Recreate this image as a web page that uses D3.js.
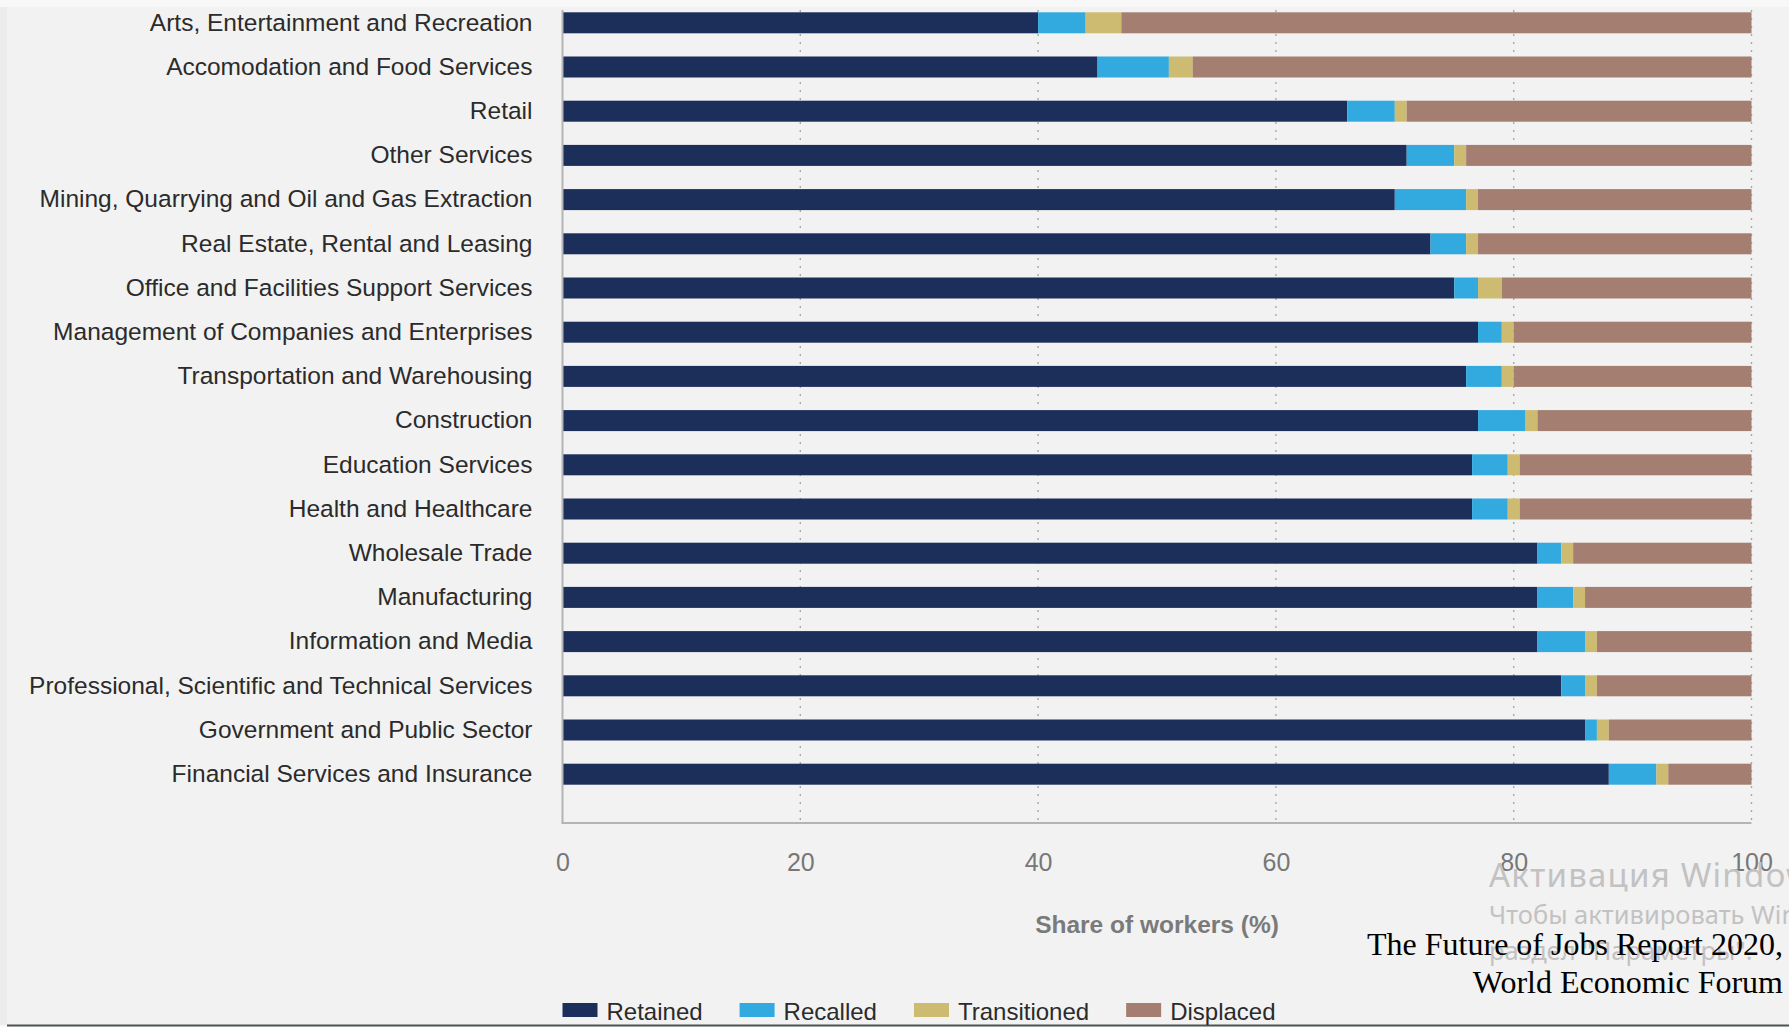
<!DOCTYPE html>
<html>
<head>
<meta charset="utf-8">
<script src="https://cdn.jsdelivr.net/npm/d3@7"></script>
<style>
  html, body { margin: 0; padding: 0; background: #ffffff; }
  svg { display: block; }
</style>
</head>
<body>
<svg id="chart" width="1789" height="1027"></svg>
<script>
// ---- Data ----
const categories = [
  "Arts, Entertainment and Recreation",
  "Accomodation and Food Services",
  "Retail",
  "Other Services",
  "Mining, Quarrying and Oil and Gas Extraction",
  "Real Estate, Rental and Leasing",
  "Office and Facilities Support Services",
  "Management of Companies and Enterprises",
  "Transportation and Warehousing",
  "Construction",
  "Education Services",
  "Health and Healthcare",
  "Wholesale Trade",
  "Manufacturing",
  "Information and Media",
  "Professional, Scientific and Technical Services",
  "Government and Public Sector",
  "Financial Services and Insurance"
];
const retained     = [40, 45, 66, 71, 70, 73, 75, 77, 76, 77, 76.5, 76.5, 82, 82, 82, 84, 86, 88];
const recalled     = [ 4,  6,  4,  4,  6,  3,  2,  2,  3,  4,  3,    3,    2,  3,  4,  2,  1,  4];
const transitioned = [ 3,  2,  1,  1,  1,  1,  2,  1,  1,  1,  1,    1,    1,  1,  1,  1,  1,  1];
const displaced    = [53, 47, 29, 24, 23, 23, 21, 20, 20, 18, 19.5, 19.5, 15, 14, 13, 13, 12,  7];
const seriesNames  = ["Retained", "Recalled", "Transitioned", "Displaced"];
const seriesColors = ["#1c2e5a", "#33aadf", "#cdbb72", "#a47e70"];
const xTicks       = [0, 20, 40, 60, 80, 100];
const gridTicks    = [20, 40, 60, 80, 100];
const axisTitle    = "Share of workers (%)";
const sourceLines  = ["The Future of Jobs Report 2020,", "World Economic Forum"];
const watermark    = ["Активация Windows", "Чтобы активировать Windows, перейдите в", "раздел \"Параметры\"."];

// ---- Build table ----
const rows = categories.map((c, i) => ({
  category: c,
  Retained: retained[i],
  Recalled: recalled[i],
  Transitioned: transitioned[i],
  Displaced: displaced[i]
}));

const svg = d3.select("#chart");
const W = 1789, H = 1027;

// background
svg.append("rect").attr("x", 0).attr("y", 0).attr("width", W).attr("height", H).attr("fill", "#f8f8f8");
svg.append("rect").attr("x", 0).attr("y", 7).attr("width", 7).attr("height", 1018).attr("fill", "#ececec");
svg.append("rect").attr("x", 7).attr("y", 7).attr("width", W - 7).attr("height", 1018).attr("fill", "#f2f2f2");
svg.append("line").attr("x1", 7).attr("x2", W).attr("y1", 1025.5).attr("y2", 1025.5)
  .attr("stroke", "#4d5454").attr("stroke-width", 2);

const plotTop = 10, plotBottom = 823;
const x = d3.scaleLinear().domain([0, 100]).range([562.5, 1751.5]);
const y = d3.scaleBand().domain(categories).range([0.7, 796.3]).paddingInner(0.525).paddingOuter(0.2625);
const color = d3.scaleOrdinal().domain(seriesNames).range(seriesColors);

// gridlines
svg.append("g").selectAll("line").data(gridTicks).join("line")
  .attr("x1", d => x(d)).attr("x2", d => x(d))
  .attr("y1", plotTop).attr("y2", plotBottom)
  .attr("stroke", "#a8a8a8").attr("stroke-width", 1.4).attr("stroke-dasharray", "2,6");

// stacked bars
const stacked = d3.stack().keys(seriesNames)(rows);
svg.append("g").selectAll("g").data(stacked).join("g")
  .attr("fill", d => color(d.key))
  .selectAll("rect").data(d => d).join("rect")
  .attr("x", d => x(d[0]))
  .attr("width", d => x(d[1]) - x(d[0]))
  .attr("y", d => y(d.data.category))
  .attr("height", y.bandwidth());

// axes lines
svg.append("line").attr("x1", x(0)).attr("x2", x(0)).attr("y1", plotTop).attr("y2", plotBottom)
  .attr("stroke", "#b4b4b4").attr("stroke-width", 2);
svg.append("line").attr("x1", x(0) - 1).attr("x2", x(100)).attr("y1", plotBottom).attr("y2", plotBottom)
  .attr("stroke", "#b4b4b4").attr("stroke-width", 2);

// y axis labels
const yAxis = svg.append("g").attr("transform", `translate(${x(0)},0)`)
  .call(d3.axisLeft(y).tickSize(0).tickPadding(30));
yAxis.select(".domain").remove();
yAxis.selectAll("text")
  .attr("font-family", "'Liberation Sans', Arial, sans-serif")
  .attr("font-size", 24.5)
  .attr("fill", "#2b2b2b");

// x axis labels
const xAxis = svg.append("g").attr("transform", `translate(0,${plotBottom})`)
  .call(d3.axisBottom(x).tickValues(xTicks).tickSize(0).tickPadding(30).tickFormat(d3.format("d")));
xAxis.select(".domain").remove();
xAxis.selectAll("text")
  .attr("font-family", "'Liberation Sans', Arial, sans-serif")
  .attr("font-size", 25)
  .attr("fill", "#777777");

// axis title
svg.append("text")
  .attr("x", (x(0) + x(100)) / 2).attr("y", 933)
  .attr("text-anchor", "middle")
  .attr("font-family", "'Liberation Sans', Arial, sans-serif")
  .attr("font-weight", "bold")
  .attr("font-size", 24.5)
  .attr("fill", "#7a7a7a")
  .text(axisTitle);

// watermark (drawn under source text)
const wm = svg.append("g").attr("font-family", "'Noto Sans', 'Open Sans', sans-serif").attr("fill", "#c2c2c2");
wm.append("text").attr("x", 1489).attr("y", 887).attr("font-size", 33).attr("letter-spacing", 1.2).text(watermark[0]);
wm.append("text").attr("x", 1489).attr("y", 924).attr("font-size", 25.5).text(watermark[1]);
wm.append("text").attr("x", 1489).attr("y", 960).attr("font-size", 25.5).text(watermark[2]);

// source
const src = svg.append("g").attr("font-family", "'Liberation Serif', 'Times New Roman', serif")
  .attr("font-size", 32).attr("fill", "#000").attr("text-anchor", "end");
src.append("text").attr("x", 1783).attr("y", 955).text(sourceLines[0]);
src.append("text").attr("x", 1783).attr("y", 993).text(sourceLines[1]);

// legend
const legend = svg.append("g").attr("font-family", "'Liberation Sans', Arial, sans-serif")
  .attr("font-size", 24).attr("fill", "#2b2b2b");
let lx = x(0);
seriesNames.forEach(name => {
  legend.append("rect").attr("x", lx).attr("y", 1003).attr("width", 35).attr("height", 14).attr("fill", color(name));
  const t = legend.append("text").attr("x", lx + 44).attr("y", 1020).text(name);
  const w = t.node().getComputedTextLength();
  lx = lx + 44 + w + 37;
});
</script>
</body>
</html>
